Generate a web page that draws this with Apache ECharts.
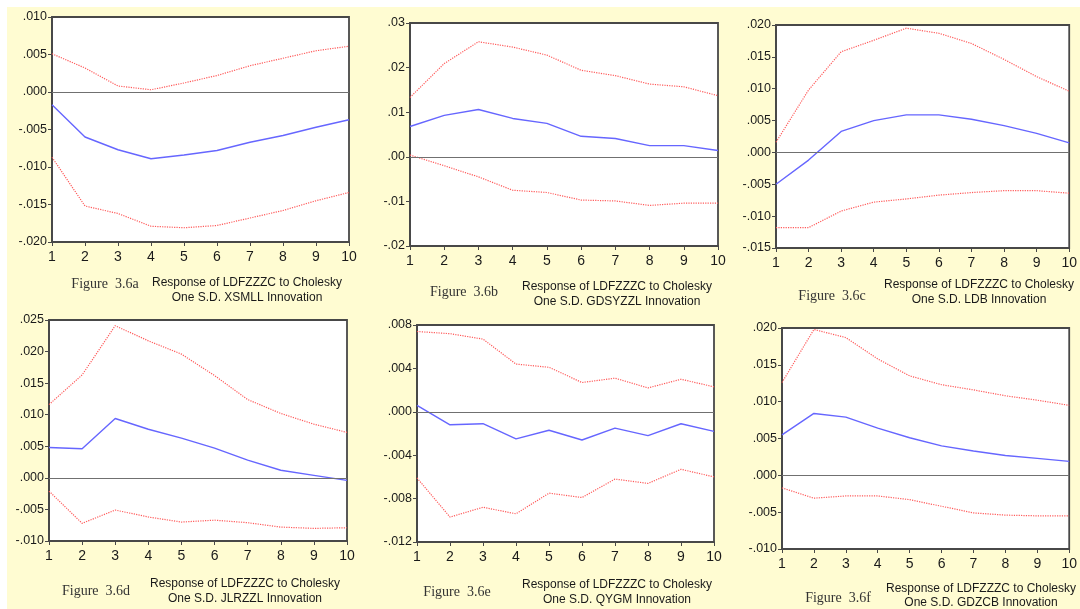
<!DOCTYPE html>
<html>
<head>
<meta charset="utf-8">
<script src="https://cdn.jsdelivr.net/npm/echarts@6/dist/echarts.min.js"></script>
<style>
html,body{margin:0;padding:0;background:#ffffff;}
#bg{position:absolute;left:7px;top:7px;width:1073px;height:602px;background:#fffcd2;}
#chart{position:absolute;left:0;top:0;width:1080px;height:609px;}
</style>
</head>
<body>
<div id="bg"></div>
<div id="chart"></div>
<script>
// ---------- data ----------
var periods = ['1','2','3','4','5','6','7','8','9','10'];

var upA  = [0.0051,0.0032,0.0008,0.0003,0.0012,0.0022,0.0035,0.0045,0.0055,0.0061];
var midA = [-0.0017,-0.0060,-0.0077,-0.0089,-0.0084,-0.0078,-0.0067,-0.0058,-0.0047,-0.0037];
var lowA = [-0.0087,-0.0152,-0.0162,-0.0179,-0.0181,-0.0178,-0.0168,-0.0158,-0.0145,-0.0134];

var upB  = [0.0133,0.0209,0.0258,0.0246,0.0228,0.0194,0.0182,0.0163,0.0157,0.0137];
var midB = [0.0068,0.0093,0.0106,0.0086,0.0075,0.0046,0.0041,0.0025,0.0025,0.0014];
var lowB = [0.0004,-0.0020,-0.0045,-0.0075,-0.0080,-0.0097,-0.0099,-0.0109,-0.0104,-0.0104];

var upC  = [0.0016,0.0098,0.0158,0.0176,0.0195,0.0187,0.0171,0.0146,0.0119,0.0096];
var midC = [-0.0050,-0.0012,0.0033,0.0050,0.0059,0.0059,0.0052,0.0042,0.0030,0.0015];
var lowC = [-0.0118,-0.0118,-0.0092,-0.0078,-0.0073,-0.0067,-0.0063,-0.0060,-0.0060,-0.0064];

var upD  = [0.0116,0.0163,0.0241,0.0217,0.0196,0.0162,0.0124,0.0102,0.0085,0.0072];
var midD = [0.0048,0.0046,0.0094,0.0077,0.0063,0.0047,0.0028,0.0012,0.0004,-0.0004];
var lowD = [-0.0021,-0.0072,-0.0051,-0.0062,-0.0070,-0.0067,-0.0071,-0.0078,-0.0080,-0.0079];

var upE  = [0.0074,0.0072,0.0067,0.0044,0.0041,0.0027,0.0031,0.0022,0.0030,0.0023];
var midE = [0.0006,-0.0012,-0.0011,-0.0025,-0.0017,-0.0026,-0.0015,-0.0022,-0.0011,-0.0018];
var lowE = [-0.0061,-0.0097,-0.0088,-0.0094,-0.0075,-0.0079,-0.0062,-0.0066,-0.0053,-0.0060];

var upF  = [0.0126,0.0198,0.0187,0.0158,0.0135,0.0123,0.0116,0.0108,0.0102,0.0095];
var midF = [0.0055,0.0084,0.0079,0.0064,0.0051,0.0040,0.0033,0.0027,0.0023,0.0019];
var lowF = [-0.0017,-0.0031,-0.0028,-0.0028,-0.0033,-0.0042,-0.0051,-0.0054,-0.0055,-0.0055];

// y-axis ranges: [min, max, interval, decimals]
var scaleA = [-0.020, 0.010, 0.005, 3];
var scaleB = [-0.02, 0.03, 0.01, 2];
var scaleC = [-0.015, 0.020, 0.005, 3];
var scaleD = [-0.010, 0.025, 0.005, 3];
var scaleE = [-0.012, 0.008, 0.004, 3];
var scaleF = [-0.010, 0.020, 0.005, 3];

var figLabels = ['Figure  3.6a','Figure  3.6b','Figure  3.6c','Figure  3.6d','Figure  3.6e','Figure  3.6f'];
var respLine1 = 'Response of LDFZZZC to Cholesky';
var respLine2 = ['One S.D. XSMLL Innovation','One S.D. GDSYZZL Innovation','One S.D. LDB Innovation',
                 'One S.D. JLRZZL Innovation','One S.D. QYGM Innovation','One S.D. GDZCB Innovation'];

// ---------- layout ----------
var panels = [
  {up:upA, mid:midA, low:lowA, sc:scaleA, g:{left:52, top:17, width:297, height:225},
   fig:[105,284], r1:[247,283], r2:[247,298]},
  {up:upB, mid:midB, low:lowB, sc:scaleB, g:{left:410, top:23, width:308, height:223},
   fig:[464,292], r1:[617,287], r2:[617,302]},
  {up:upC, mid:midC, low:lowC, sc:scaleC, g:{left:776, top:25, width:299, height:223},
   fig:[832,296], r1:[979,285], r2:[979,300]},
  {up:upD, mid:midD, low:lowD, sc:scaleD, g:{left:49, top:320, width:298, height:221},
   fig:[96,591], r1:[245,584], r2:[245,599]},
  {up:upE, mid:midE, low:lowE, sc:scaleE, g:{left:417, top:325, width:297, height:217},
   fig:[457,592], r1:[617,585], r2:[617,600]},
  {up:upF, mid:midF, low:lowF, sc:scaleF, g:{left:782, top:328, width:297, height:221},
   fig:[838,598], r1:[981,589], r2:[981,603]}
];

var frameColor = '#484848';
var grids = [], xAxes = [], yAxes = [], series = [], graphics = [];

function fmt(dec){
  return function(v){
    var s = Math.abs(v).toFixed(dec).replace(/^0/, '');
    return (v < -1e-10 ? '-' : '') + s;
  };
}

panels.forEach(function(p, i){
  grids.push({left:p.g.left, top:p.g.top, width:p.g.width, height:p.g.height,
    show:true, backgroundColor:'#ffffff', borderColor:frameColor, borderWidth:1.8, containLabel:false});
  xAxes.push({type:'category', gridIndex:i, data:periods, boundaryGap:false,
    axisLine:{show:true, onZero:false, lineStyle:{color:frameColor, width:1.8}},
    axisTick:{show:true, inside:false, length:4, alignWithLabel:true, lineStyle:{color:frameColor}},
    axisLabel:{color:'#1a1a1a', fontSize:14, fontFamily:'Liberation Sans, Arial, sans-serif', margin:8, showMaxLabel:true, showMinLabel:true},
    splitLine:{show:false}});
  yAxes.push({type:'value', gridIndex:i, min:p.sc[0], max:p.sc[1], interval:p.sc[2],
    axisLine:{show:true, lineStyle:{color:frameColor, width:1.8}},
    axisTick:{show:true, inside:false, length:4, lineStyle:{color:frameColor}},
    axisLabel:{color:'#1a1a1a', fontSize:12.5, fontFamily:'Liberation Sans, Arial, sans-serif', margin:5, formatter:fmt(p.sc[3])},
    splitLine:{show:false}});
  series.push({type:'line', xAxisIndex:i, yAxisIndex:i, data:p.up, symbol:'none', silent:true,
    lineStyle:{color:'#ff5a5a', width:1.2, type:'dotted'}, z:3});
  series.push({type:'line', xAxisIndex:i, yAxisIndex:i, data:p.low, symbol:'none', silent:true,
    lineStyle:{color:'#ff5a5a', width:1.2, type:'dotted'}, z:3});
  series.push({type:'line', xAxisIndex:i, yAxisIndex:i, data:p.mid, symbol:'none', silent:true,
    lineStyle:{color:'#6666ff', width:1.4}, z:4,
    markLine:{silent:true, symbol:['none','none'], label:{show:false},
      lineStyle:{color:'#707070', width:1.2, type:'solid'}, data:[{yAxis:0}], animation:false}});
  graphics.push({type:'text', x:p.fig[0], y:p.fig[1],
    style:{text:figLabels[i], fill:'#333333', font:'14px "Liberation Serif", "Times New Roman", serif',
      textAlign:'center', textVerticalAlign:'middle'}});
  graphics.push({type:'text', x:p.r1[0], y:p.r1[1],
    style:{text:respLine1, fill:'#1a1a1a', font:'12px "Liberation Sans", Arial, sans-serif',
      textAlign:'center', textVerticalAlign:'middle'}});
  graphics.push({type:'text', x:p.r2[0], y:p.r2[1],
    style:{text:respLine2[i], fill:'#1a1a1a', font:'12px "Liberation Sans", Arial, sans-serif',
      textAlign:'center', textVerticalAlign:'middle'}});
});

var chart = echarts.init(document.getElementById('chart'), null, {renderer:'canvas'});
chart.setOption({
  backgroundColor:'transparent',
  animation:false,
  grid:grids, xAxis:xAxes, yAxis:yAxes, series:series,
  graphic:graphics
});
</script>
</body>
</html>
